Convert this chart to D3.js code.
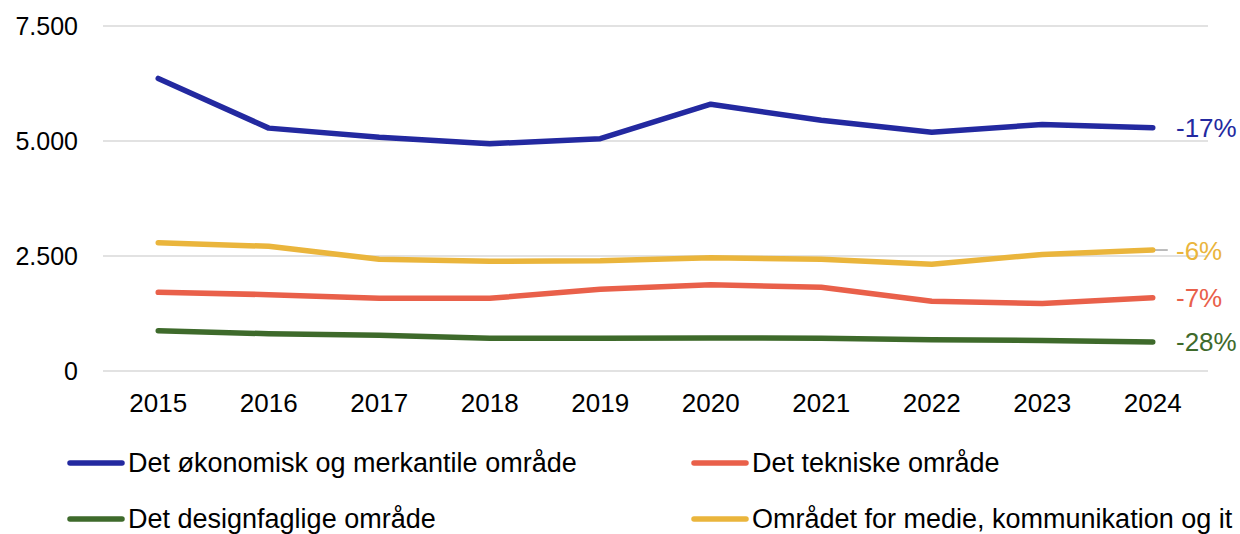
<!DOCTYPE html>
<html lang="da">
<head>
<meta charset="UTF-8">
<title>Linjediagram</title>
<script src="https://d3js.org/d3.v7.min.js"></script>
<style>
    body { margin: 0; background: #fff; }
    svg text { font-family: "Liberation Sans", Arial, sans-serif; fill: #000; }
</style>
</head>
<body>
<svg id="chart" width="1240" height="534"></svg>
<script>
    // data
    const years = ["2015","2016","2017","2018","2019","2020","2021","2022","2023","2024"];
    const okonomisk = [6360, 5280, 5080, 4940, 5050, 5800, 5450, 5190, 5360, 5290];
    const tekniske = [1710, 1660, 1580, 1580, 1775, 1875, 1820, 1515, 1465, 1595];
    const design = [875, 810, 775, 710, 710, 720, 710, 680, 665, 630];
    const medie = [2790, 2710, 2430, 2385, 2395, 2460, 2430, 2320, 2535, 2630];
    const seriesNames = ["Det økonomisk og merkantile område", "Det tekniske område",
                         "Det designfaglige område", "Området for medie, kommunikation og it"];
    const endLabels = ["-17%", "-7%", "-28%", "-6%"];
    const yTicks = [0, 2500, 5000, 7500];

    const colors = ["#2329A0", "#E9604A", "#3E6A2B", "#EAB53C"];
    const series = [okonomisk, tekniske, design, medie];

    const svg = d3.select("#chart");
    const plotLeft = 103, plotRight = 1208, plotTop = 26, plotBottom = 371;

    const x = d3.scaleBand().domain(years).range([plotLeft, plotRight]);
    const y = d3.scaleLinear().domain([0, 7500]).range([plotBottom, plotTop]);
    const fmt = d3.formatLocale({decimal: ",", thousands: ".", grouping: [3], currency: ["", " kr"]}).format(",");

    // gridlines
    svg.append("g").selectAll("line").data(yTicks).join("line")
        .attr("x1", plotLeft).attr("x2", plotRight)
        .attr("y1", d => y(d)).attr("y2", d => y(d))
        .attr("stroke", "#d9d9d9").attr("stroke-width", 1.5);

    // y labels
    svg.append("g").selectAll("text").data(yTicks).join("text")
        .attr("x", 78).attr("y", d => y(d))
        .attr("dy", "0.35em")
        .attr("text-anchor", "end")
        .style("font-size", "25px")
        .text(d => fmt(d));

    // x labels
    svg.append("g").selectAll("text").data(years).join("text")
        .attr("x", d => x(d) + x.bandwidth() / 2).attr("y", 412)
        .attr("text-anchor", "middle")
        .style("font-size", "26px")
        .text(d => d);

    const line = d3.line()
        .x((d, i) => x(years[i]) + x.bandwidth() / 2)
        .y(d => y(d));

    // small leader for the yellow label
    const lastX = x(years[9]) + x.bandwidth() / 2;
    svg.append("line")
        .attr("x1", lastX).attr("x2", lastX + 15)
        .attr("y1", y(medie[9])).attr("y2", y(medie[9]))
        .attr("stroke", "#a6a6a6").attr("stroke-width", 1.5);

    // lines, drawn so blue is on top
    [3, 1, 2, 0].forEach(k => {
        svg.append("path")
            .datum(series[k])
            .attr("d", line)
            .attr("fill", "none")
            .attr("stroke", colors[k])
            .attr("stroke-width", 5.5)
            .attr("stroke-linecap", "round")
            .attr("stroke-linejoin", "round");
    });

    // end labels
    series.forEach((s, k) => {
        svg.append("text")
            .attr("x", 1176)
            .attr("y", y(s[9]) + (k === 3 ? 1 : 0))
            .attr("dy", "0.35em")
            .style("font-size", "26px")
            .style("fill", colors[k])
            .text(endLabels[k]);
    });

    // legend
    const legPos = [[70, 463], [694, 463], [70, 519], [694, 519]];
    const leg = svg.append("g").selectAll("g").data(seriesNames).join("g")
        .attr("transform", (d, i) => `translate(${legPos[i][0]},${legPos[i][1]})`);
    leg.append("line")
        .attr("x1", 0).attr("x2", 52).attr("y1", 0).attr("y2", 0)
        .attr("stroke", (d, i) => colors[i])
        .attr("stroke-width", 5.5)
        .attr("stroke-linecap", "round");
    leg.append("text")
        .attr("x", 58).attr("dy", "0.35em")
        .style("font-size", "27px")
        .text(d => d);
</script>
</body>
</html>
